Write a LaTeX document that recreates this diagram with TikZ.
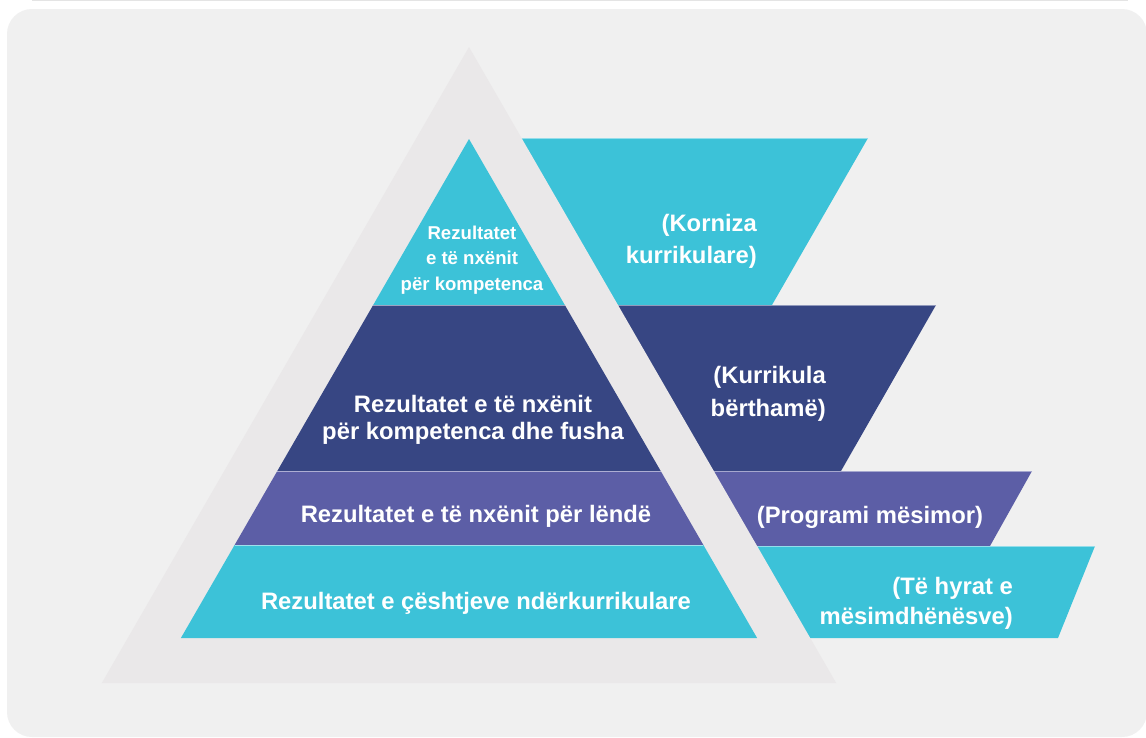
\documentclass[tikz,border=0pt]{standalone}
\usepackage{fontspec}
\setmainfont{Liberation Sans}
\definecolor{panel}{HTML}{F0F0F0}
\definecolor{tri}{HTML}{EAE8E9}
\definecolor{cyanL}{HTML}{3CC2D8}
\definecolor{navy}{HTML}{374683}
\definecolor{violet}{HTML}{5C5EA6}
\definecolor{topline}{HTML}{E4E4E4}
\tikzset{
  lbl/.style={text=white, font=\bfseries\fontsize{23.8}{27}\selectfont, inner sep=0pt},
  small/.style={text=white, font=\bfseries\fontsize{18.6}{25.5}\selectfont, inner sep=0pt, align=center},
  sep/.style={line width=1pt}
}
\begin{document}
\begin{tikzpicture}[x=1pt,y=-1pt]
\useasboundingbox (0,0) rectangle (1146,737);
\fill[white] (0,0) rectangle (1146,737);
\draw[topline, line width=1.5pt] (32,0.5) -- (1128,0.5);
\fill[panel, rounded corners=25pt] (7,9) rectangle (1147,737);

% right trapezoids (behind outer triangle)
\fill[cyanL] (480,138) -- (868,138) -- (772,305) -- (480,305) -- cycle;
\draw[sep, cyanL!55!white] (480,138.5) -- (868,138.5);
\fill[navy] (480,305) -- (936,305) -- (841,471) -- (480,471) -- cycle;
\draw[sep, navy!55!white] (480,305.5) -- (936,305.5);
\fill[violet] (480,471) -- (1032,471) -- (990,546) -- (480,546) -- cycle;
\draw[sep, violet!55!white] (480,471.5) -- (1032,471.5);
\fill[cyanL] (480,546) -- (1095,546) -- (1058,638) -- (480,638) -- cycle;
\draw[sep, cyanL!55!white] (480,546.5) -- (1095,546.5);

% outer triangle
\fill[tri] (101.8,683) -- (836.2,683) -- (469,47) -- cycle;

% inner pyramid
\fill[cyanL] (469,139) -- (564.8,305) -- (373.2,305) -- cycle;
\fill[navy] (373.2,305) -- (564.8,305) -- (660.7,471) -- (277.3,471) -- cycle;
\draw[sep, navy!50!white] (373.2,305.5) -- (564.8,305.5);
\fill[violet] (277.3,471) -- (660.7,471) -- (703.4,545) -- (234.6,545) -- cycle;
\draw[sep, violet!50!white] (277.3,471.5) -- (660.7,471.5);
\fill[cyanL] (234.6,545) -- (703.4,545) -- (757.1,638) -- (180.9,638) -- cycle;
\draw[sep, cyanL!50!white] (234.6,545.5) -- (703.4,545.5);

% pyramid texts
\node[small] (p1) at (472,260) {Rezultatet\\e të nxënit\\për kompetenca};
\node[lbl, align=center] (p2) at (473,420) {Rezultatet e të nxënit\\për kompetenca dhe fusha};
\node[lbl] (p3) at (476,516) {Rezultatet e të nxënit për lëndë};
\node[lbl] (p4) at (476,603) {Rezultatet e çështjeve ndërkurrikulare};

% right texts
\node[lbl, align=right, anchor=east, font=\bfseries\fontsize{23.8}{32}\selectfont] (r1) at (757,241) {(Korniza\\kurrikulare)};
\node[lbl, align=right, anchor=east, font=\bfseries\fontsize{23.8}{33}\selectfont] (r2) at (826,394) {(Kurrikula\\bërthamë)};
\node[lbl] (r3) at (870,517) {(Programi mësimor)};
\node[lbl, align=right, anchor=east, font=\bfseries\fontsize{23.8}{30}\selectfont] (r4) at (1013,603) {(Të hyrat e\\mësimdhënësve)};
\end{tikzpicture}
\end{document}
